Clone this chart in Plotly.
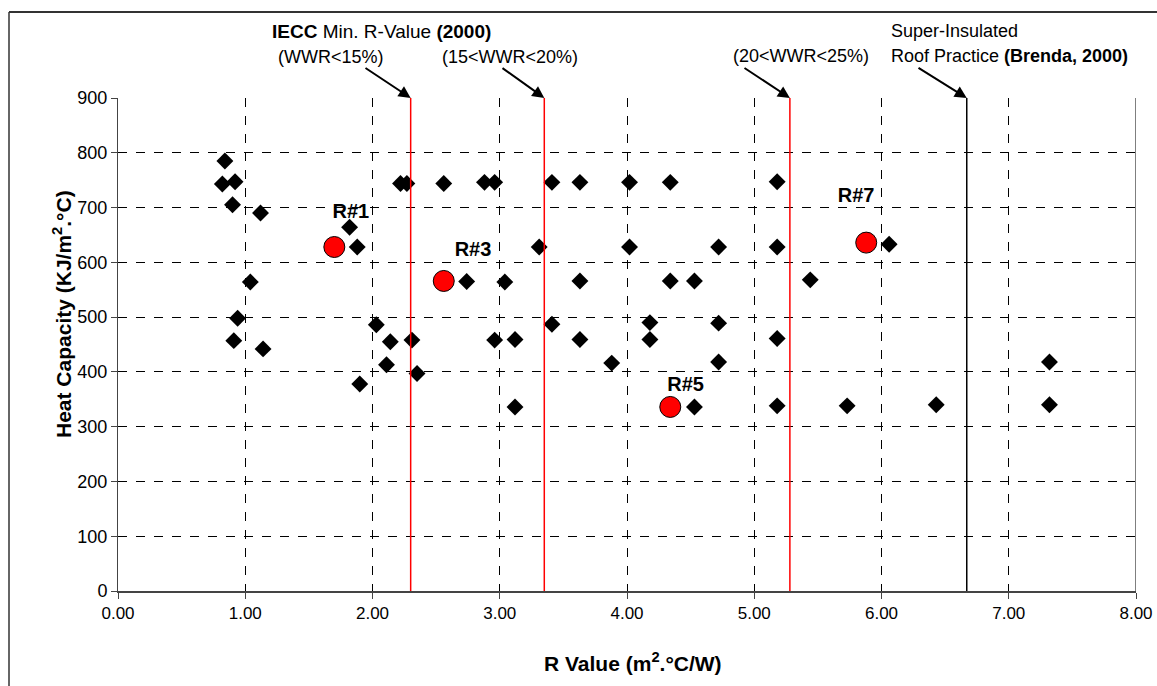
import plotly.graph_objects as go

# Data: black diamonds (R value, heat capacity)
r_values = [0.84, 0.82, 0.92, 0.90, 1.12, 1.82, 1.88, 1.04, 0.94, 0.91, 1.14,
            2.03, 2.14, 2.11, 1.90, 2.31, 2.35, 2.22, 2.27, 2.56, 2.74,
            2.88, 2.96, 3.41, 3.63, 4.02, 4.34, 5.18,
            3.31, 4.02, 4.72, 5.18, 6.06,
            3.04, 3.63, 4.34, 4.53, 5.44,
            3.41, 4.18, 4.72,
            2.96, 3.12, 3.63, 4.18, 5.18,
            3.88, 4.72, 7.32,
            3.12, 4.53, 5.18, 5.73, 6.43, 7.32]
heat_cap = [785, 743, 747, 705, 690, 664, 628, 564, 498, 457, 442,
            486, 455, 413, 378, 458, 397, 744, 744, 744, 565,
            746, 746, 746, 746, 746, 746, 747,
            628, 628, 628, 628, 633,
            564, 566, 566, 566, 568,
            487, 490, 489,
            458, 459, 459, 459, 461,
            416, 418, 418,
            336, 336, 338, 338, 340, 340]

# Selected cases (red circles)
sel_labels = ["R#1", "R#3", "R#5", "R#7"]
sel_r = [1.70, 2.56, 4.34, 5.88]
sel_hc = [628, 566, 336, 636]
sel_label_x = [1.83, 2.79, 4.46, 5.80]
sel_label_y = [690, 620, 374, 719]

# Reference lines
ref_x_red = [2.30, 3.35, 5.28]
ref_x_black = [6.67]

x_ticks = [0, 1, 2, 3, 4, 5, 6, 7, 8]
x_tick_text = ["0.00", "1.00", "2.00", "3.00", "4.00", "5.00", "6.00", "7.00", "8.00"]
y_ticks = [0, 100, 200, 300, 400, 500, 600, 700, 800, 900]

FONT = "Arial, Liberation Sans, sans-serif"

fig = go.Figure()

fig.add_trace(go.Scatter(
    x=r_values, y=heat_cap, mode="markers",
    marker=dict(symbol="diamond", size=13, color="black", line=dict(width=0)),
    showlegend=False, cliponaxis=False))

fig.add_trace(go.Scatter(
    x=sel_r, y=sel_hc, mode="markers",
    marker=dict(symbol="circle", size=21, color="#ff0000", line=dict(width=1, color="black")),
    showlegend=False))

fig.add_trace(go.Scatter(
    x=sel_label_x, y=sel_label_y, mode="text", text=["<b>%s</b>" % t for t in sel_labels],
    textfont=dict(family=FONT, size=20, color="black"), showlegend=False))

shapes = []
for xv in ref_x_red:
    shapes.append(dict(type="line", xref="x", yref="y", x0=xv, x1=xv, y0=0, y1=900,
                       line=dict(color="#ff0000", width=1.5)))
for xv in ref_x_black:
    shapes.append(dict(type="line", xref="x", yref="y", x0=xv, x1=xv, y0=0, y1=900,
                       line=dict(color="black", width=1.5)))
# plot right border
shapes.append(dict(type="line", xref="x", yref="y", x0=8, x1=8, y0=0, y1=900,
                   line=dict(color="#555555", width=1.5)))
# figure frame (left and top)
W, H = 1157, 686
L, R, T, B = 118, 21, 98, 95
pw, ph = W - L - R, H - T - B
def px_x(p):
    return (p - L) / pw
def px_y(p):
    return (H - B - p) / ph
shapes.append(dict(type="line", xref="paper", yref="paper", x0=px_x(9), x1=px_x(9),
                   y0=px_y(12), y1=px_y(700), line=dict(color="#333333", width=1.5)))
shapes.append(dict(type="line", xref="paper", yref="paper", x0=px_x(9), x1=px_x(1170),
                   y0=px_y(12), y1=px_y(12), line=dict(color="#333333", width=2)))

annotations = []
def text_ann(txt, x_px, y_px, anchor="left", size=18, angle=0):
    annotations.append(dict(text=txt, xref="paper", yref="paper", x=px_x(x_px), y=px_y(y_px),
                            xanchor=anchor, yanchor="middle", showarrow=False, textangle=angle,
                            font=dict(family=FONT, size=size, color="black")))

text_ann("<b>IECC</b> Min. R-Value <b>(2000)</b>", 270, 31, size=19)
text_ann("(WWR&lt;15%)", 276, 57)
text_ann("(15&lt;WWR&lt;20%)", 440, 57)
text_ann("(20&lt;WWR&lt;25%)", 731, 56)
text_ann("Super-Insulated", 889, 31)
text_ann("Roof Practice <b>(Brenda, 2000)</b>", 889, 56)

# axis titles
text_ann("<b>R Value (m<sup>2</sup>.°C/W)</b>", 633, 662, anchor="center", size=21)
text_ann("<b>Heat Capacity (KJ/m<sup>2</sup>.°C)</b>", 62, 314, anchor="center", size=21, angle=-90)

arrows = [(2.30, 364, 67), (3.35, 501, 67), (5.28, 743, 67), (6.67, 917, 67)]
for xv, tx, ty in arrows:
    head_px = L + xv / 8 * pw
    annotations.append(dict(text="", xref="x", yref="y", x=xv, y=900,
                            ax=tx - head_px, ay=ty - T, showarrow=True,
                            arrowhead=2, arrowsize=1.2, arrowwidth=2, arrowcolor="black"))

fig.update_layout(
    width=W, height=H,
    margin=dict(l=L, r=R, t=T, b=B, autoexpand=False),
    paper_bgcolor="white", plot_bgcolor="white",
    font=dict(family=FONT, size=16, color="black"),
    shapes=shapes, annotations=annotations,
    xaxis=dict(range=[0, 8], tickvals=x_ticks, ticktext=x_tick_text, automargin=False,
               showgrid=True, gridcolor="black", gridwidth=1, griddash="dash",
               zeroline=False, showline=True, linecolor="#444444", linewidth=2,
               ticks="outside", ticklen=6, tickcolor="#444444",
               tickfont=dict(family=FONT, size=17)),
    yaxis=dict(range=[0, 900], tickvals=y_ticks, automargin=False,
               showgrid=True, gridcolor="black", gridwidth=1, griddash="dash",
               zeroline=False, showline=True, linecolor="#444444", linewidth=1,
               ticks="outside", ticklen=6, tickcolor="#444444",
               tickfont=dict(family=FONT, size=18)),
)

fig.write_html("out.html")
